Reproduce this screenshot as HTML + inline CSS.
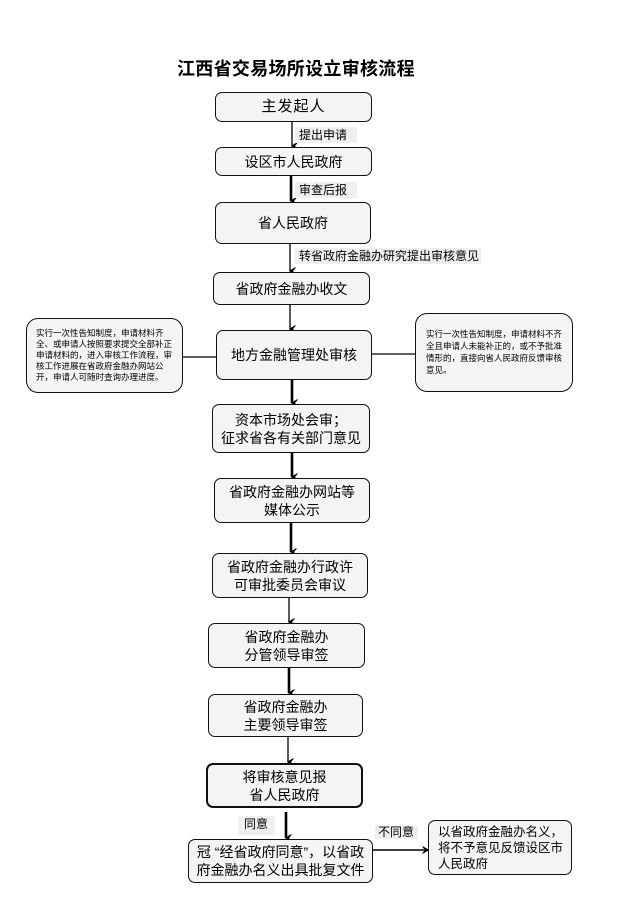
<!DOCTYPE html>
<html><head><meta charset="utf-8">
<style>
html,body{margin:0;padding:0;background:#fff;}
body{width:635px;height:899px;position:relative;overflow:hidden;font-family:"Liberation Sans","Noto Sans CJK SC",sans-serif;color:#000;}
.b{position:absolute;box-sizing:border-box;border:1.6px solid #111;border-radius:7px;background:#f4f4f4;display:flex;align-items:center;justify-content:center;text-align:center;font-size:14px;line-height:18px;}
.l{position:absolute;background:#efefef;font-size:12px;line-height:16px;padding:0 4px;box-sizing:border-box;white-space:nowrap;}
.title{position:absolute;left:177px;top:55px;font-size:18px;font-weight:bold;letter-spacing:0.3px;white-space:nowrap;}
.side{position:absolute;box-sizing:border-box;border:1.6px solid #111;border-radius:12px;background:#f4f4f4;font-size:8.5px;line-height:11px;}
svg{position:absolute;left:0;top:0;}
</style></head><body>
<div class="title">江西省交易场所设立审核流程</div>

<svg width="635" height="899">
<defs>
<marker id="a" markerWidth="8" markerHeight="8" refX="4" refY="7" orient="auto" markerUnits="userSpaceOnUse">
<path d="M0.5,1.5 L4,7.5 L7.5,1.5 L4,4.5 Z" fill="#000" stroke="#000" stroke-width="0.8"/>
</marker>
<marker id="ah" markerWidth="8" markerHeight="8" refX="7" refY="4" orient="auto" markerUnits="userSpaceOnUse">
<path d="M1.5,0.5 L7.5,4 L1.5,7.5 L4.5,4 Z" fill="#000" stroke="#000" stroke-width="0.8"/>
</marker>
</defs>
<g stroke="#000" fill="none">
<line x1="292" y1="122" x2="292" y2="146" stroke-width="1.3" marker-end="url(#a)"/>
<line x1="291" y1="176" x2="291" y2="201" stroke-width="2.6" marker-end="url(#a)"/>
<line x1="290" y1="244" x2="290" y2="271" stroke-width="1.3" marker-end="url(#a)"/>
<line x1="290" y1="305" x2="290" y2="329" stroke-width="1.3" marker-end="url(#a)"/>
<line x1="292" y1="380" x2="292" y2="403" stroke-width="2.6" marker-end="url(#a)"/>
<line x1="292" y1="453" x2="292" y2="477" stroke-width="2.6" marker-end="url(#a)"/>
<line x1="291" y1="523" x2="291" y2="552" stroke-width="2.6" marker-end="url(#a)"/>
<line x1="289" y1="598" x2="289" y2="622" stroke-width="1.3" marker-end="url(#a)"/>
<line x1="289" y1="668" x2="289" y2="693" stroke-width="2.6" marker-end="url(#a)"/>
<line x1="288" y1="737" x2="288" y2="762" stroke-width="1.3" marker-end="url(#a)"/>
<line x1="286" y1="812" x2="286" y2="838" stroke-width="2.6" marker-end="url(#a)"/>
<line x1="183" y1="357" x2="216" y2="357" stroke-width="1.2"/>
<line x1="372" y1="354" x2="415" y2="354" stroke-width="1.2"/>
<line x1="373" y1="850" x2="428" y2="850" stroke-width="1.6" marker-end="url(#ah)"/>
</g>
</svg>

<div class="b" style="left:215px;top:92px;width:157px;height:30px;font-size:15px;letter-spacing:1px;">主发起人</div>
<div class="l" style="left:295px;top:127px;width:62px;">提出申请</div>
<div class="b" style="left:215px;top:147px;width:157px;height:29px;">设区市人民政府</div>
<div class="l" style="left:295px;top:182px;width:62px;">审查后报</div>
<div class="b" style="left:215px;top:202px;width:156px;height:42px;">省人民政府</div>
<div class="l" style="left:295px;top:248px;width:186px;">转省政府金融办研究提出审核意见</div>
<div class="b" style="left:213px;top:272px;width:157px;height:33px;">省政府金融办收文</div>
<div class="b" style="left:216px;top:330px;width:156px;height:50px;">地方金融管理处审核</div>
<div class="b" style="left:212px;top:404px;width:158px;height:49px;">资本市场处会审；<br>征求省各有关部门意见</div>
<div class="b" style="left:214px;top:478px;width:156px;height:45px;">省政府金融办网站等<br>媒体公示</div>
<div class="b" style="left:212px;top:553px;width:156px;height:45px;">省政府金融办行政许<br>可审批委员会审议</div>
<div class="b" style="left:208px;top:623px;width:157px;height:45px;">省政府金融办<br>分管领导审签</div>
<div class="b" style="left:208px;top:694px;width:155px;height:43px;">省政府金融办<br>主要领导审签</div>
<div class="b" style="left:206px;top:763px;width:157px;height:45px;border-width:2px;">将审核意见报<br>省人民政府</div>
<div class="l" style="left:238px;top:816px;width:37px;height:19px;padding:0 6px;">同意</div>
<div class="b" style="left:188px;top:839px;width:185px;height:44px;">冠 “经省政府同意”，以省政<br>府金融办名义出具批复文件</div>
<div class="l" style="left:375px;top:826px;width:43px;height:13px;line-height:13px;padding:0 3px;">不同意</div>
<div class="b" style="left:428px;top:820px;width:144px;height:55px;justify-content:flex-start;text-align:left;padding-left:9px;font-size:12.5px;line-height:16px;">以省政府金融办名义，<br>将不予意见反馈设区市<br>人民政府</div>

<div class="side" style="left:26px;top:318px;width:157px;height:75px;padding:9px 6px 0 9px;">实行一次性告知制度，申请材料齐全、或申请人按照要求提交全部补正申请材料的，进入审核工作流程，审核工作进展在省政府金融办网站公开，申请人可随时查询办理进度。</div>
<div class="side" style="left:415px;top:313px;width:158px;height:79px;padding:14px 6px 0 10px;line-height:12px;">实行一次性告知制度，申请材料不齐全且申请人未能补正的，或不予批准情形的，直接向省人民政府反馈审核意见。</div>
</body></html>
